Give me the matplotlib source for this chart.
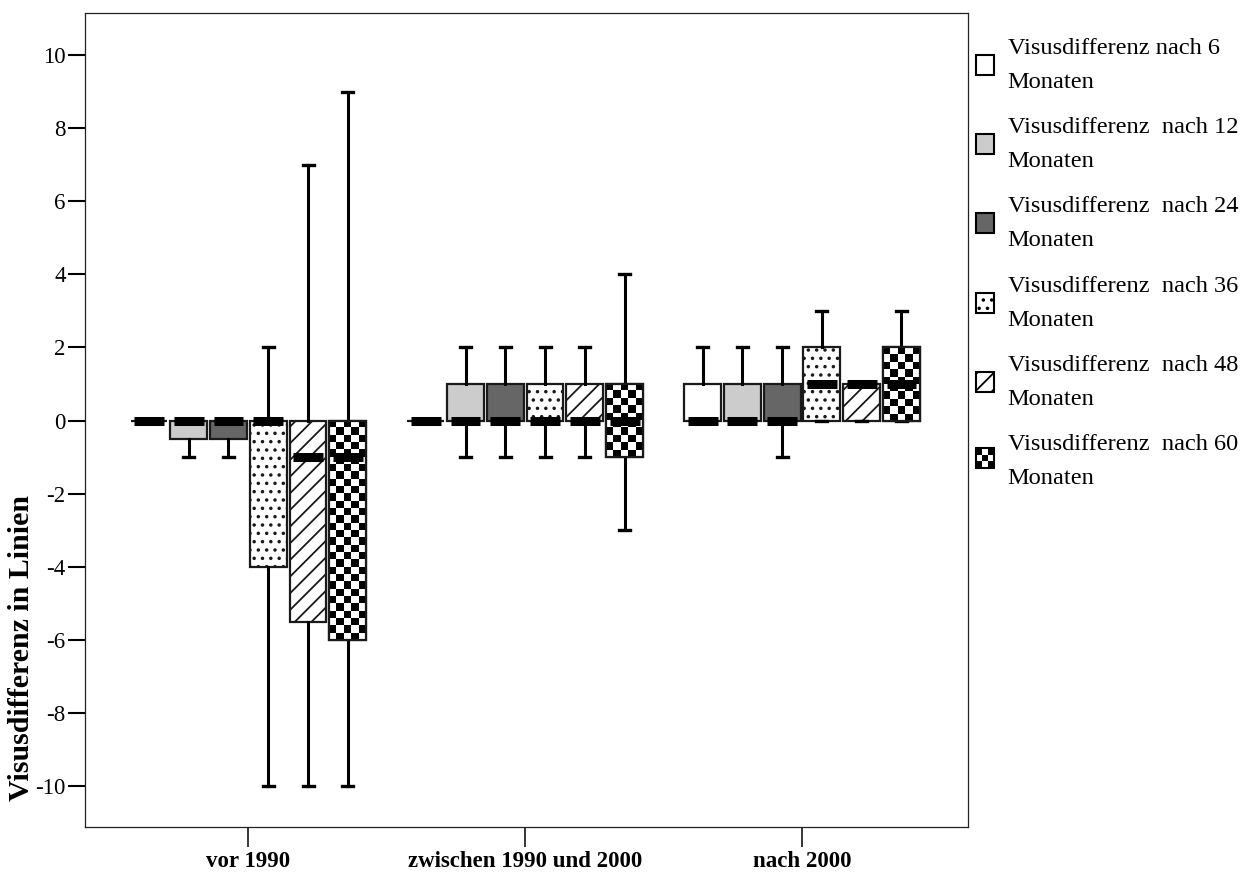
import matplotlib
matplotlib.use("Agg")
import matplotlib.pyplot as plt
import numpy as np
from matplotlib.patches import Patch, PathPatch, Rectangle

groups = ["vor 1990", "zwischen 1990 und 2000", "nach 2000"]
series = [
    "Visusdifferenz nach 6\nMonaten",
    "Visusdifferenz  nach 12\nMonaten",
    "Visusdifferenz  nach 24\nMonaten",
    "Visusdifferenz  nach 36\nMonaten",
    "Visusdifferenz  nach 48\nMonaten",
    "Visusdifferenz  nach 60\nMonaten",
]

# box statistics per group (rows) and follow-up time (columns)
whislo = [[0, -1, -1, -10, -10, -10],
          [0, -1, -1, -1, -1, -3],
          [0, 0, -1, 0, 0, 0]]
q1 = [[0, -0.5, -0.5, -4, -5.5, -6],
      [0, 0, 0, 0, 0, -1],
      [0, 0, 0, 0, 0, 0]]
med = [[0, 0, 0, 0, -1, -1],
       [0, 0, 0, 0, 0, 0],
       [0, 0, 0, 1, 1, 1]]
q3 = [[0, 0, 0, 0, 0, 0],
      [0, 1, 1, 1, 1, 1],
      [1, 1, 1, 2, 1, 2]]
whishi = [[0, 0, 0, 2, 7, 9],
          [0, 2, 2, 2, 2, 4],
          [2, 2, 2, 3, 1, 3]]

fills = ["white", "#cccccc", "#666666", "white", "white", "white"]
hatches = [None, None, None, "..", "//", None]
checker = [False, False, False, False, False, True]

plt.rcParams["font.family"] = ["Liberation Serif", "DejaVu Serif"]
plt.rcParams["hatch.linewidth"] = 1.3

EDGE = "#1a1a1a"
step = 0.1437
width = 0.133


class CheckerHandler:
    def legend_artist(self, legend, orig_handle, fontsize, handlebox):
        x0, y0 = handlebox.xdescent, handlebox.ydescent
        w, h = handlebox.width, handlebox.height
        tr = handlebox.get_transform()
        n = 3
        for i in range(n):
            for j in range(n):
                if (i + j) % 2 == 0:
                    handlebox.add_artist(Rectangle((x0 + j * w / n, y0 + i * h / n), w / n, h / n,
                                                   facecolor="black", edgecolor="none", transform=tr))
        box = Rectangle((x0, y0), w, h, facecolor="none", edgecolor="black", lw=1.5, transform=tr)
        handlebox.add_artist(box)
        return box


fig = plt.figure(figsize=(12.49, 8.81), dpi=100)
ax = fig.add_axes([0.0681, 0.0613, 0.7070, 0.9240])

stats, positions = [], []
for g in range(len(groups)):
    for s in range(len(series)):
        stats.append(dict(med=med[g][s], q1=q1[g][s], q3=q3[g][s],
                          whislo=whislo[g][s], whishi=whishi[g][s], fliers=[]))
        positions.append(g + (s - 2.5) * step)

res = ax.bxp(stats, positions=positions, widths=width, capwidths=0.04,
             patch_artist=True, showfliers=False,
             boxprops=dict(edgecolor=EDGE, linewidth=1.6),
             whiskerprops=dict(color="black", linewidth=2.2),
             capprops=dict(color="black", linewidth=2.4),
             medianprops=dict(color="black", linewidth=6.5, solid_capstyle="butt"))

for k, box in enumerate(res["boxes"]):
    s = k % len(series)
    box.set_facecolor(fills[s])
    box.set_zorder(2)
    if hatches[s]:
        box.set_hatch(hatches[s])
    if checker[s]:
        st = stats[k]
        lo, hi = st["q1"], st["q3"]
        nrows = int(np.ceil((hi - lo) / 0.2))
        if nrows > 0:
            grid = np.indices((nrows, 5)).sum(axis=0) % 2
            x = positions[k]
            im = ax.imshow(grid, cmap="gray", vmin=0, vmax=1, origin="upper",
                           extent=(x - width / 2, x + width / 2, hi - nrows * 0.2, hi),
                           aspect="auto", interpolation="nearest", zorder=2.1)
            im.set_clip_path(box)
            ax.add_patch(PathPatch(box.get_path(), fill=False, edgecolor=EDGE,
                                   linewidth=1.6, zorder=2.2))

for k, line in enumerate(res["medians"]):
    x = positions[k]
    line.set_xdata([x - 0.054, x + 0.054])
    line.set_zorder(3)

ax.set_xlim(-0.59, 2.6)
ax.set_ylim(-11.12, 11.15)
ax.set_xticks(range(len(groups)))
ax.set_xticklabels(groups, fontsize=16.5, fontweight="bold")
ax.set_yticks(range(-10, 11, 2))
ax.set_yticklabels([str(v) for v in range(-10, 11, 2)], fontsize=16.5)
ax.tick_params(axis="y", direction="out", length=12, width=1.5, pad=2)
ax.tick_params(axis="x", direction="out", length=14.4, width=1.1, pad=3)
for sp in ax.spines.values():
    sp.set_linewidth(0.9)
    sp.set_color("#222222")

ax.set_ylabel("Visusdifferenz in Linien", fontsize=21.5, fontweight="bold")
ax.yaxis.set_label_coords(-0.057, 0.22)

handles = []
hmap = {}
for s in range(len(series)):
    h = Patch(facecolor=fills[s], edgecolor="black", hatch=hatches[s], linewidth=1.5)
    if checker[s]:
        hmap[h] = CheckerHandler()
    handles.append(h)

leg = fig.legend(handles, series, loc="upper left", bbox_to_anchor=(976 / 1249, 1 - 38 / 881),
                 frameon=False, fontsize=17.6, borderpad=0, borderaxespad=0,
                 handlelength=0.74, handleheight=0.88, handletextpad=0.55,
                 labelspacing=1.0, handler_map=hmap)
for t in leg.get_texts():
    t.set_linespacing(1.8)

fig.savefig("out.png", dpi=100)
